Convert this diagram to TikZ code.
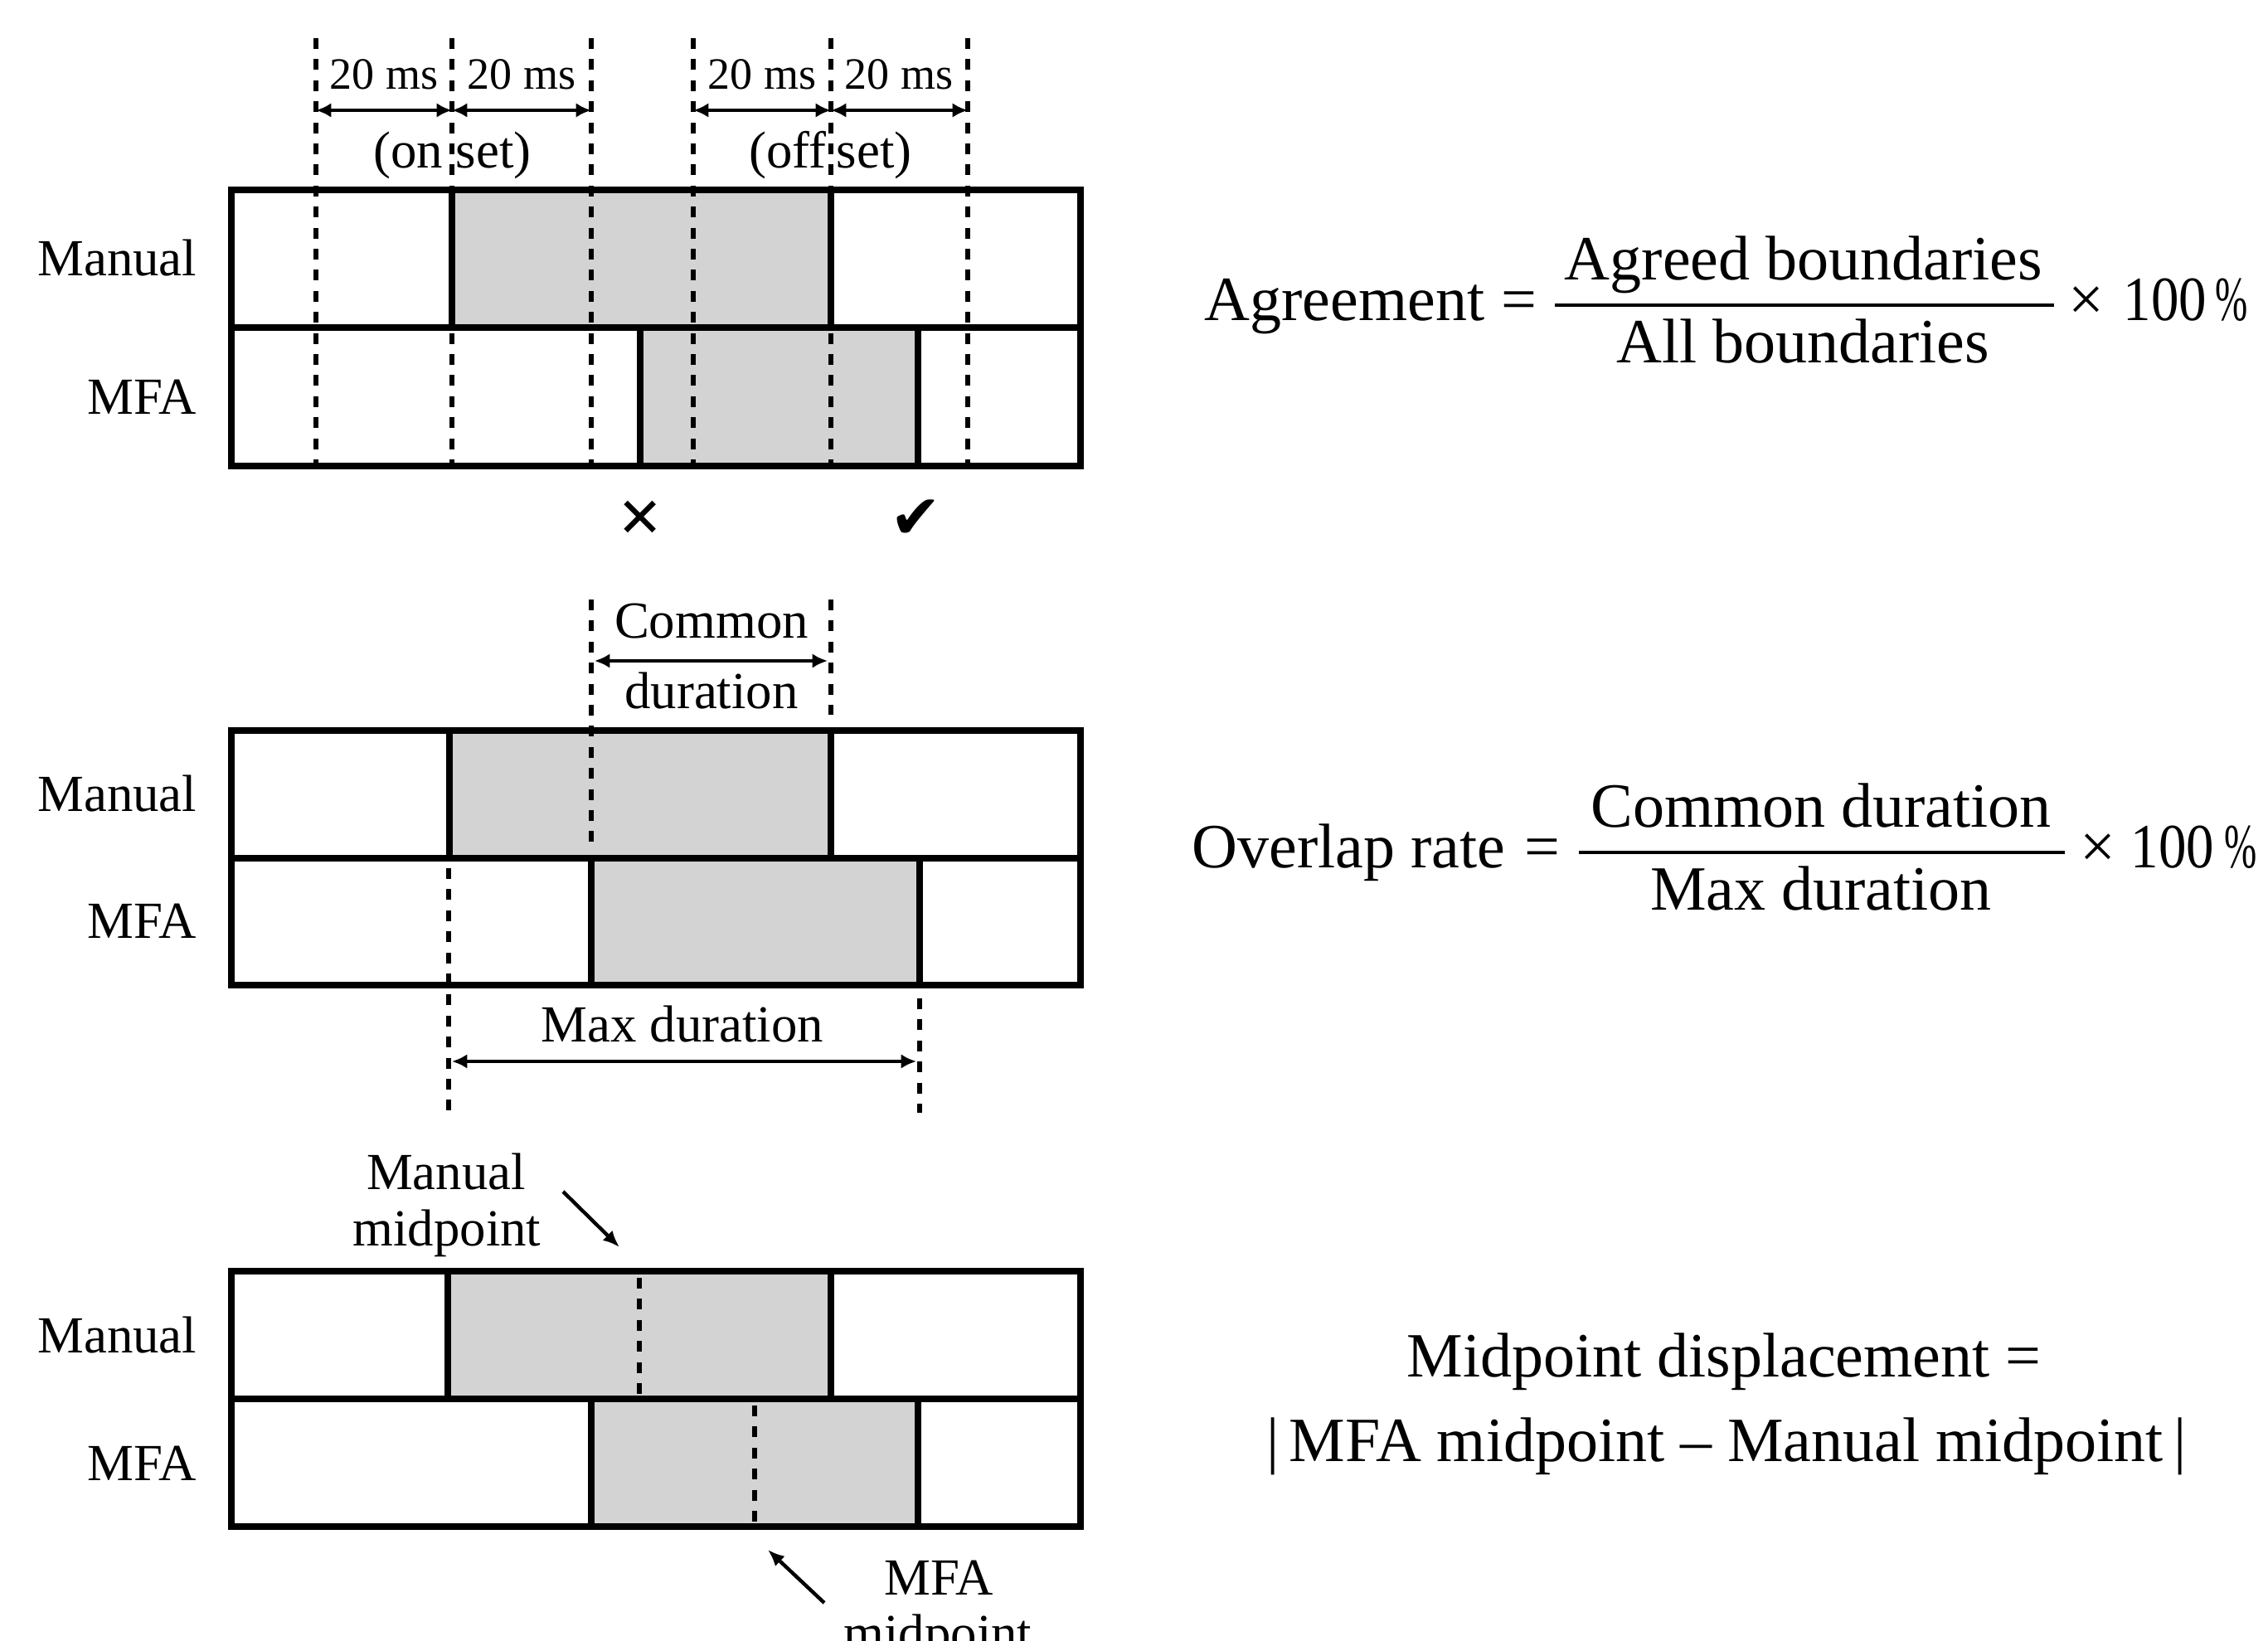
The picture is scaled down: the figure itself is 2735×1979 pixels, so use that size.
\documentclass[tikz,border=0pt]{standalone}
\usepackage{fontspec}
\setmainfont{Liberation Serif}
\newfontfamily\symfont{DejaVu Sans}
\usetikzlibrary{arrows.meta}
\definecolor{segcol}{RGB}{211,211,211}
\tikzset{
  box/.style={line width=2.2pt},
  dashline/.style={line width=1.7pt, dash pattern=on 3.25pt off 3.1pt},
  dimarrow/.style={line width=1pt, {Latex[length=4.6pt,width=4.4pt]}-{Latex[length=4.6pt,width=4.4pt]}},
  ptr/.style={line width=1.1pt, -{Latex[length=5pt,width=4.2pt]}},
  lab/.style={font=\fontsize{15.7pt}{18pt}\selectfont, inner sep=0pt},
  mslab/.style={font=\fontsize{13.5pt}{16pt}\selectfont, inner sep=0pt},
  fm/.style={font=\fontsize{19pt}{22pt}\selectfont, inner sep=0pt},
  sym/.style={font=\symfont\fontsize{16.5pt}{18pt}\selectfont, inner sep=0pt},
}
% #1 top, #2 mid, #3 bottom, #4 manual left, #5 manual right, #6 mfa left, #7 mfa right
\newcommand{\tierbox}[7]{%
  \fill[segcol] (#4,#1) rectangle (#5,#2);
  \fill[segcol] (#6,#2) rectangle (#7,#3);
  \draw[box] (#4,#1) -- (#4,#2) (#5,#1) -- (#5,#2);
  \draw[box] (#6,#2) -- (#6,#3) (#7,#2) -- (#7,#3);
  \draw[box] (279,#2) -- (1303,#2);
  \draw[box] (279,#1) rectangle (1303,#3);
}
\newcommand{\narrowpct}{\scalebox{0.62}[1]{\%}}
\newcommand{\narrowhund}{\scalebox{0.88}[1]{100}}
\begin{document}
\begin{tikzpicture}[x=0.25pt,y=-0.25pt]
\fill[white] (0,0) rectangle (2735,1979);
\useasboundingbox (0,0) rectangle (2735,1979);

% ---------------- Panel 1 : agreement ----------------
\tierbox{229}{395}{562}{545}{1002}{772}{1107}
\foreach \x/\n in {381/a,545/b,713/c,836/d,1002/e,1167/f}{
  \coordinate (t\n) at (\x,46);
  \coordinate (b\n) at (\x,562);
  \coordinate (r\n) at (\x,133);
  \draw[dashline] (t\n) -- (b\n);
}
\draw[dimarrow] (ra) -- (rb);
\draw[dimarrow] (rb) -- (rc);
\draw[dimarrow] (rd) -- (re);
\draw[dimarrow] (re) -- (rf);
\node[mslab, anchor=base] (ms1) at (463,108) {20 ms};
\node[mslab, anchor=base] (ms2) at (629,108) {20 ms};
\node[mslab, anchor=base] (ms3) at (919,108) {20 ms};
\node[mslab, anchor=base] (ms4) at (1084,108) {20 ms};
\node[lab, anchor=base east] (on1) at (535,203) {(on};
\node[lab, anchor=base west] (on2) at (549,203) {set)};
\node[lab, anchor=base east] (off1) at (997,203) {(off};
\node[lab, anchor=base west] (off2) at (1008,203) {set)};
\node[lab, anchor=base east] (man1) at (238,333) {Manual};
\node[lab, anchor=base east] (mfa1) at (238,500) {MFA};
\node[sym] (cross) at (772,626) {✕};
\node[sym, font=\symfont\fontsize{18.5pt}{20pt}\selectfont] (tick) at (1104,626) {✔};

% formula 1
\node[fm, anchor=base west] (agr) at (1452,387) {Agreement};
\node[fm, anchor=base] (eq1) at (1832,387) {=};
\coordinate (bar1l) at (1875,368);
\coordinate (bar1r) at (2477,368);
\draw[line width=1pt] (bar1l) -- (bar1r);
\node[fm, anchor=base] (num1) at (2175,338) {Agreed boundaries};
\node[fm, anchor=base] (den1) at (2174,438) {All boundaries};
\node[fm, anchor=base] (times1) at (2516,387) {×};
\node[fm, anchor=base] (hund1) at (2611,387) {\narrowhund};
\node[fm, anchor=base west] (pct1) at (2671,387) {\narrowpct};

% ---------------- Panel 2 : overlap ----------------
\tierbox{881}{1035}{1188}{542}{1002}{713}{1109}
\coordinate (cl1) at (713,723);
\coordinate (cl2) at (713,1020);
\coordinate (cr1) at (1002,723);
\coordinate (cr2) at (1002,862);
\draw[dashline] (cl1) -- (cl2);
\draw[dashline] (cr1) -- (cr2);
\coordinate (ca) at (717,797);
\coordinate (cb) at (998,797);
\draw[dimarrow] (ca) -- (cb);
\node[lab, anchor=base] (common) at (858,770) {Common};
\node[lab, anchor=base] (cdur) at (858,855) {duration};
\coordinate (ml1) at (541,1047);
\coordinate (ml2) at (541,1342);
\coordinate (mr1) at (1109,1204);
\coordinate (mr2) at (1109,1342);
\draw[dashline] (ml1) -- (ml2);
\draw[dashline] (mr1) -- (mr2);
\coordinate (ma) at (545,1280);
\coordinate (mb) at (1105,1280);
\draw[dimarrow] (ma) -- (mb);
\node[lab, anchor=base] (maxd) at (823,1257) {Max duration};
\node[lab, anchor=base east] (man2) at (238,979) {Manual};
\node[lab, anchor=base east] (mfa2) at (238,1132) {MFA};

% formula 2
\node[fm, anchor=base west] (ovl) at (1437,1047) {Overlap rate};
\node[fm, anchor=base] (eq2) at (1860,1047) {=};
\coordinate (bar2l) at (1904,1028);
\coordinate (bar2r) at (2490,1028);
\draw[line width=1pt] (bar2l) -- (bar2r);
\node[fm, anchor=base] (num2) at (2196,998) {Common duration};
\node[fm, anchor=base] (den2) at (2196,1098) {Max duration};
\node[fm, anchor=base] (times2) at (2530,1047) {×};
\node[fm, anchor=base] (hund2) at (2620,1047) {\narrowhund};
\node[fm, anchor=base west] (pct2) at (2682,1047) {\narrowpct};

% ---------------- Panel 3 : midpoint ----------------
\tierbox{1533}{1687}{1841}{540}{1002}{713}{1107}
\coordinate (mm1) at (771,1541);
\coordinate (mm2) at (771,1681);
\coordinate (fm1) at (910,1695);
\coordinate (fm2) at (910,1836);
\draw[dashline] (mm1) -- (mm2);
\draw[dashline] (fm1) -- (fm2);
\node[lab, anchor=base] (mmt1) at (538,1435) {Manual};
\node[lab, anchor=base] (mmt2) at (539,1502) {midpoint};
\coordinate (mpa) at (679,1437);
\coordinate (mpb) at (747,1504);
\draw[ptr] (mpa) -- (mpb);
\node[lab, anchor=base] (fmt1) at (1132,1923) {MFA};
\node[lab, anchor=base] (fmt2) at (1131,1990) {midpoint};
\coordinate (fpa) at (994,1933);
\coordinate (fpb) at (926,1869);
\draw[ptr] (fpa) -- (fpb);
\node[lab, anchor=base east] (man3) at (238,1631) {Manual};
\node[lab, anchor=base east] (mfa3) at (238,1785) {MFA};

% formula 3
\node[fm, anchor=base] (mid1) at (2079,1660) {Midpoint displacement =};
\node[fm, anchor=base] (mid2) at (2082,1762) {|\,MFA midpoint – Manual midpoint\,|};
\end{tikzpicture}
\end{document}
